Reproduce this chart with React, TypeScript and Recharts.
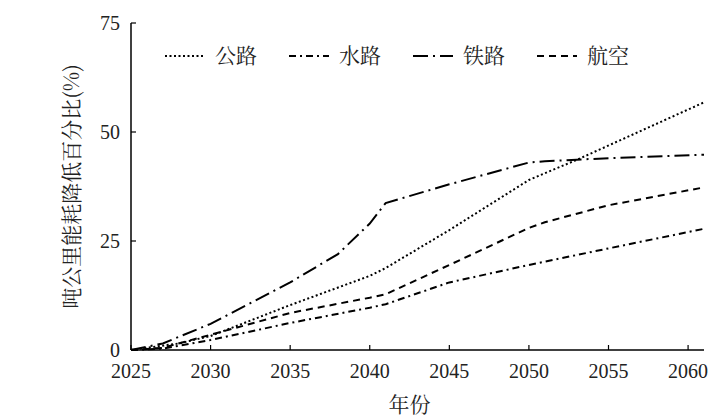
import React from "react";
import { LineChart, Line, XAxis, YAxis, Label } from "recharts";

// 吨公里能耗降低百分比 by year
const roadYears = [2025, 2028, 2030, 2035, 2040, 2041, 2045, 2050, 2053, 2061];
const roadValues = [0, 1.5, 3.2, 10.3, 17, 18.8, 27.5, 39, 43.6, 56.8];

const waterYears = [2025, 2027, 2030, 2035, 2040, 2041, 2045, 2050, 2055, 2061];
const waterValues = [0, 0.3, 2.3, 6.2, 9.7, 10.5, 15.5, 19.5, 23.3, 27.8];

const railYears = [2025, 2027, 2030, 2035, 2038, 2040, 2041, 2045, 2050, 2051, 2055, 2061];
const railValues = [0, 1.5, 6, 15.5, 22, 29, 33.7, 38, 43, 43.3, 44, 44.8];

const airYears = [2025, 2027, 2030, 2035, 2040, 2041, 2045, 2050, 2051, 2055, 2061];
const airValues = [0, 0.5, 3.5, 8.5, 12, 12.8, 19.5, 28, 29.3, 33.2, 37.3];

const xTicks = [2025, 2030, 2035, 2040, 2045, 2050, 2055, 2060];
const yTicks = [0, 25, 50, 75];

const NUM_FONT = "Liberation Serif";
const CJK_FONT = "Noto Serif CJK SC";

const toRows = (years: number[], values: number[]) =>
  years.map((year, i) => ({ year, value: values[i] }));

const series = [
  { name: "公路", data: toRows(roadYears, roadValues), dash: "2 2.5" },
  { name: "水路", data: toRows(waterYears, waterValues), dash: "7 4 2 4" },
  { name: "铁路", data: toRows(railYears, railValues), dash: "15 5 2 5" },
  { name: "航空", data: toRows(airYears, airValues), dash: "7 5" },
];

const XTick = ({ x, y, payload }: any) => (
  <g>
    <line x1={x} y1={y} x2={x} y2={y - 5} stroke="#000" strokeWidth={1.2} />
    <text x={x} y={y + 28} textAnchor="middle" fontSize={20} fontFamily={NUM_FONT} fill="#222">
      {payload.value}
    </text>
  </g>
);

const YTick = ({ x, y, payload }: any) => (
  <g>
    <line x1={x} y1={y} x2={x + 5} y2={y} stroke="#000" strokeWidth={1.2} />
    <text x={x - 11} y={y + 7} textAnchor="end" fontSize={20} fontFamily={NUM_FONT} fill="#222">
      {payload.value}
    </text>
  </g>
);

const YLabel = ({ viewBox }: any) => {
  const cx = viewBox.x + 62;
  const cy = viewBox.y + viewBox.height / 2;
  return (
    <text
      x={cx}
      y={cy}
      transform={`rotate(-90 ${cx} ${cy})`}
      textAnchor="middle"
      dominantBaseline="central"
      fontSize={21}
      fontFamily={CJK_FONT}
      fill="#222"
    >
      吨公里能耗降低百分比(%)
    </text>
  );
};

const XLabel = ({ viewBox }: any) => (
  <text
    x={viewBox.x + viewBox.width / 2 - 8}
    y={viewBox.y + 62}
    textAnchor="middle"
    fontSize={21}
    fontFamily={CJK_FONT}
    fill="#222"
  >
    年份
  </text>
);

function LegendBox() {
  return (
    <svg width={718} height={80} style={{ position: "absolute", left: 0, top: 0 }}>
      {series.map((s, i) => {
        const x0 = 157 + i * 124;
        return (
          <g key={s.name}>
            <line x1={x0} y1={48} x2={x0 + 40} y2={48} stroke="#000" strokeWidth={2} strokeDasharray={s.dash} />
            <text x={x0 + 50} y={55} fontSize={21} fontFamily={CJK_FONT} fill="#222">
              {s.name}
            </text>
          </g>
        );
      })}
    </svg>
  );
}

export default function App() {
  return (
    <div style={{ position: "relative", width: 718, height: 411 }}>
      <LineChart width={718} height={411} margin={{ top: 15, right: 22, bottom: 9, left: 0 }}>
        <XAxis
          dataKey="year"
          type="number"
          domain={[2025, 2061]}
          ticks={xTicks}
          allowDuplicatedCategory={false}
          tick={<XTick />}
          tickLine={false}
          tickSize={0}
          tickMargin={0}
          height={60}
          axisLine={{ stroke: "#000", strokeWidth: 1.5 }}
        >
          <Label content={<XLabel />} />
        </XAxis>
        <YAxis
          type="number"
          domain={[0, 75]}
          ticks={yTicks}
          tick={<YTick />}
          tickLine={false}
          tickSize={0}
          tickMargin={0}
          width={123}
          axisLine={{ stroke: "#000", strokeWidth: 1.5 }}
        >
          <Label content={<YLabel />} />
        </YAxis>
        {series.map((s) => (
          <Line
            key={s.name}
            data={s.data}
            dataKey="value"
            name={s.name}
            type="linear"
            stroke="#000"
            strokeWidth={2}
            strokeDasharray={s.dash}
            dot={false}
            activeDot={false}
            isAnimationActive={false}
          />
        ))}
      </LineChart>
      <LegendBox />
    </div>
  );
}
